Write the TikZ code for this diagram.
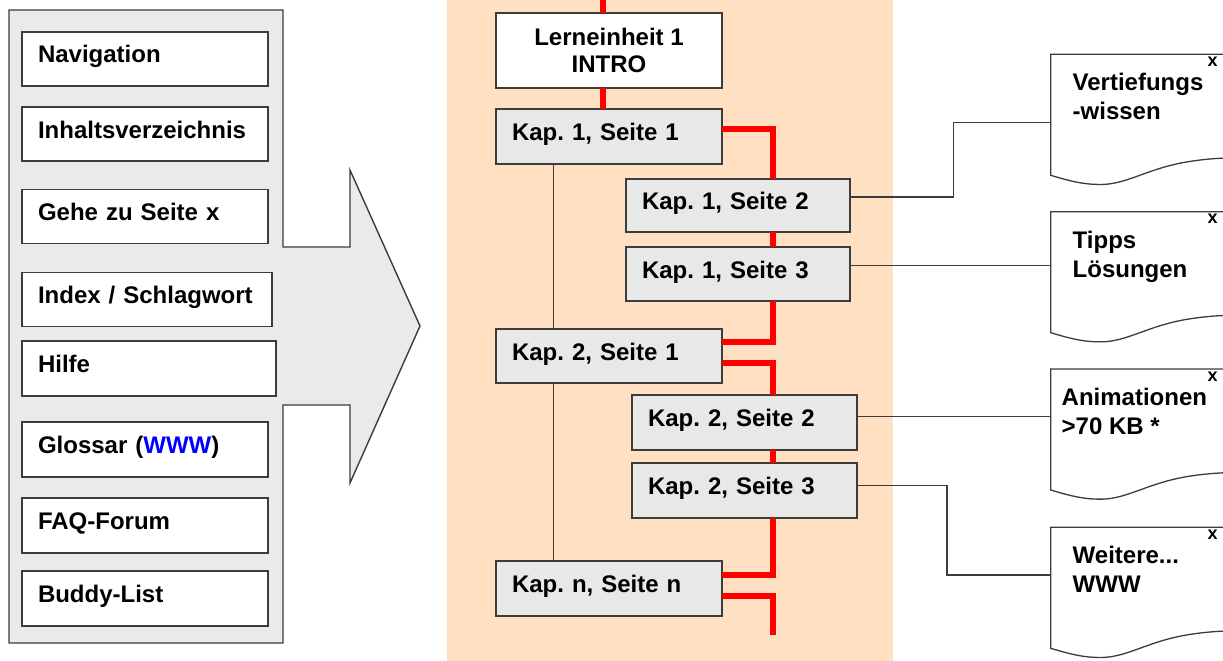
\documentclass[tikz,border=0pt]{standalone}
\usepackage{fontspec}
\setmainfont{Liberation Sans}
\usepackage{tikz}
\usetikzlibrary{positioning, calc}
\definecolor{panelgray}{RGB}{234,234,234}
\definecolor{boxgray}{RGB}{232,232,232}
\definecolor{edgegray}{RGB}{60,60,60}
\definecolor{peach}{RGB}{255,224,194}
\definecolor{wwwblue}{RGB}{0,0,255}
\tikzstyle{bigfont}=[font=\fontsize{24}{27.3}\selectfont\bfseries]
\tikzstyle{plainbox}=[rectangle, draw=edgegray, line width=1.4pt, outer sep=0pt, anchor=north west, bigfont, align=left, inner xsep=16pt, inner ysep=0pt, text height=17pt, text depth=9pt]
\tikzstyle{menubox}=[plainbox, fill=white, text width=214pt, minimum height=54pt]
\tikzstyle{kapbox}=[plainbox, fill=boxgray, text width=194pt, minimum height=55pt]
\tikzstyle{introbox}=[rectangle, draw=edgegray, line width=1.4pt, outer sep=0pt, fill=white, bigfont, align=center, minimum width=226pt, minimum height=75pt, anchor=north west]
\tikzstyle{redpath}=[red, line width=6pt]
\tikzstyle{linkpath}=[edgegray, line width=1.3pt]
\tikzstyle{docline}=[edgegray, line width=1.3pt]
\tikzstyle{docnode}=[anchor=north west, outer sep=0pt, font=\fontsize{24}{29}\selectfont\bfseries, align=left, inner xsep=22pt, inner ysep=19pt]
\tikzstyle{closemark}=[font=\fontsize{18}{18}\selectfont\bfseries, inner sep=0pt]

\begin{document}
\frenchspacing
\begin{tikzpicture}[x=1pt, y=-1pt]
    \useasboundingbox (0,0) rectangle (1223,661);
    \clip (0,0) rectangle (1223,661);
    \fill[peach] (447,0) rectangle (893,661);
    \draw[edgegray, line width=1.4pt, fill=panelgray] (9,10) -- (283,10) -- (283,247) -- (350,247) -- (350,170) -- (420,326) -- (350,483) -- (350,405) -- (283,405) -- (283,643) -- (9,643) -- cycle;

    \node[menubox] (nav) at (22,32) {Navigation};
    \node[menubox] (toc) at (22,107) {Inhaltsverzeichnis};
    \node[menubox] (goto) at (22,189.5) {Gehe zu Seite x};
    \node[menubox, text width=218pt] (index) at (22,272.5) {Index / Schlagwort};
    \node[menubox, text width=222pt, minimum height=55pt] (help) at (22,341) {Hilfe};
    \node[menubox, minimum height=55pt] (gloss) at (22,422) {Glossar (\textcolor{wwwblue}{WWW})};
    \node[menubox, minimum height=55pt] (faq) at (22,498) {FAQ-Forum};
    \node[menubox, minimum height=55pt] (buddy) at (22,571) {Buddy-List};

    \node[introbox] (intro) at (496,13) {Lerneinheit 1\\INTRO};
    \node[kapbox, below=21pt of intro] (k11) {Kap. 1, Seite 1};
    \node[kapbox, text width=192pt, minimum height=53pt] (k12) at (626,179) {Kap. 1, Seite 2};
    \node[kapbox, text width=192pt, minimum height=54pt, below=15pt of k12] (k13) {Kap. 1, Seite 3};
    \node[kapbox, minimum height=54pt] (k21) at (496,329) {Kap. 2, Seite 1};
    \node[kapbox, text width=193pt] (k22) at (632,395) {Kap. 2, Seite 2};
    \node[kapbox, text width=193pt, below=13pt of k22] (k23) {Kap. 2, Seite 3};
    \node[kapbox] (kn) at (496,561) {Kap. n, Seite n};

    \coordinate (spine) at (773,0);
    \coordinate (trunk) at (553.5,0);
    \coordinate (top) at (602.7,0);
    \coordinate (tail) at (773,635);

    \draw[redpath] (top) -- (top |- intro.north);
    \draw[redpath] (top |- intro.south) -- (top |- k11.north);
    \draw[redpath] ([yshift=7.5pt]k11.east) -| (spine |- k12.north);
    \draw[redpath] (spine |- k12.south) -- (spine |- k13.north);
    \draw[redpath] (spine |- k13.south) |- ([yshift=14pt]k21.east);
    \draw[redpath] ([yshift=-6.7pt]k21.east) -| (spine |- k22.north);
    \draw[redpath] (spine |- k22.south) -- (spine |- k23.north);
    \draw[redpath] (spine |- k23.south) |- ([yshift=13.5pt]kn.east);
    \draw[redpath] ([yshift=-7.2pt]kn.east) -| (tail);

    \draw[linkpath] (trunk |- k11.south) -- (trunk |- k21.north);
    \draw[linkpath] (trunk |- k21.south) -- (trunk |- kn.north);

    \node[docnode] (d1) at (1050.7,54.3) {Vertiefungs\\-wissen};
    \node[docnode] (d2) at (1050.7,211.7) {Tipps\\Lösungen};
    \node[docnode, inner xsep=11pt] (d3) at (1050.7,369) {Animationen\\>70 KB *};
    \node[docnode] (d4) at (1050.7,527.3) {Weitere...\\WWW};

    \foreach \d in {d1,d2,d3,d4}{
        \begin{scope}[shift={(\d.north west)}]
            \draw[docline] (190,0) -- (0,0) -- (0,121) .. controls (20,127) and (35,131) .. (55,130) .. controls (80,128) and (100,113) .. (140,107) .. controls (160,104) and (175,103.5) .. (190,103.5);
        \end{scope}
        \node[closemark] (x\d) at ($(\d.north west)+(162,7.5)$) {x};
    }

    \draw[linkpath] ([yshift=8.5pt]k12.east) -- ++(103.7,0) |- ($(d1.north west)+(0,68.4)$);
    \draw[linkpath] ([yshift=8.3pt]k13.east) coordinate (a2) -- (a2 -| d2.west);
    \draw[linkpath] ([yshift=5.8pt]k22.east) coordinate (a3) -- (a3 -| d3.west);
    \draw[linkpath] ([yshift=4.8pt]k23.east) -- ++(90,0) |- ($(d4.north west)+(0,47.7)$);
\end{tikzpicture}
\end{document}
